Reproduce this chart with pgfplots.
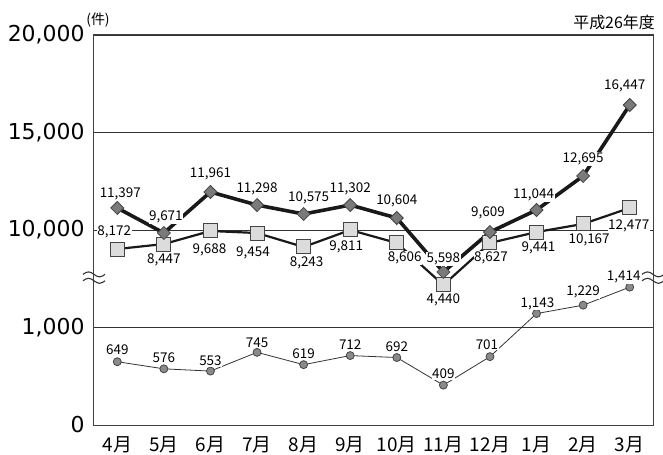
\documentclass[border=0pt]{standalone}
\usepackage{pgfplots}
\pgfplotsset{compat=1.18}
\usepackage{pgfplotstable}
\usepackage{fontspec}
\setmainfont{Noto Sans CJK JP}
\newfontfamily\dejavu{DejaVu Sans}

\definecolor{diafill}{HTML}{7A7A7A}
\definecolor{sqfill}{HTML}{DCDCDC}
\definecolor{cifill}{HTML}{8A8A8A}
\definecolor{edge}{HTML}{444444}

% diamonds: x, plotted position (broken scale), label, label offsets
\pgfplotstableread{
x y lab dx dy
0 2226 11,397 3 14
1 1969 9,671 2 16
2 2390 11,961 0 18
3 2256 11,298 0 16
4 2164 10,575 5 16
5 2256 11,302 0 16
6 2123 10,604 0 17
7 1569 5,598 0 13
8 1979 9,609 -2 19
9 2205 11,044 -3 15
10 2554 12,695 0 17
11 3282 16,447 -5 19
}\dia

\pgfplotstableread{
x y lab dx dy
0 1805 8,172 -3 17
1 1856 8,447 0 -16
2 1990 9,688 -1 -19
3 1969 9,454 -4 -20
4 1826 8,243 3 -16
5 2000 9,811 -4 -17
6 1867 8,606 8 -15
7 1436 4,440 0 -15
8 1867 8,627 1 -15
9 1979 9,441 2 -16
10 2062 10,167 6 -16
11 2226 12,477 -1 -18
}\sq

\pgfplotstableread{
x y lab dx dy
0 649 649 0 12
1 576 576 0 11
2 553 553 0 10
3 745 745 0 10
4 619 619 0 11
5 712 712 0 11
6 692 692 0 11
7 409 409 0 11
8 701 701 -3 12
9 1143 1,143 1 10
10 1229 1,229 0 13
11 1414 1,414 -6 10
}\ci

\begin{document}
\begin{tikzpicture}
\useasboundingbox (-94bp,-30bp) rectangle (569bp,425bp);
\begin{axis}[
  at={(0,0)}, anchor=south west,
  scale only axis, width=559bp, height=390bp,
  xmin=-0.5, xmax=11.5, ymin=0, ymax=4000,
  axis line style={line width=1bp, black!75},
  major tick length=0pt,
  xtick={0,...,11},
  xticklabels={4月,5月,6月,7月,8月,9月,10月,11月,12月,1月,2月,3月},
  xticklabel style={font=\fontsize{19}{19}\selectfont, yshift=-8bp},
  ytick={0,1000,2000,3000,4000},
  yticklabels={0,{1,000},{10,000},{15,000},{20,000}},
  yticklabel style={font=\dejavu\fontsize{22}{22}\selectfont, xshift=-6bp},
  ymajorgrids, grid style={line width=0.8bp, black!80},
  clip=false,
  lbl/.style={draw=none, mark=none, nodes near coords, point meta=explicit symbolic,
    visualization depends on={\thisrow{dx} \as \lblx},
    visualization depends on={\thisrow{dy} \as \lbly},
    every node near coord/.append style={font=\fontsize{13.5}{13.5}\selectfont, fill=white, inner sep=0.5bp, anchor=center, xshift=\lblx bp, yshift=\lbly bp}},
]
% circles
\addplot[line width=0.8bp, black!80, mark=*, mark size=4bp, mark options={fill=cifill, draw=edge, line width=0.8bp}] table[x=x, y=y] {\ci};
% squares
\addplot[line width=2.2bp, black!90, mark=square*, mark size=7bp, mark options={fill=sqfill, draw=edge, line width=1bp}] table[x=x, y=y] {\sq};
% diamonds
\addplot[line width=3.6bp, black!90, mark=square*, mark size=4.6bp, mark options={rotate=45, fill=diafill, draw=edge, line width=0.8bp}] table[x=x, y=y] {\dia};
% labels
\addplot[lbl] table[x=x, y=y, meta=lab] {\ci};
\addplot[lbl] table[x=x, y=y, meta=lab] {\sq};
\addplot[lbl] table[x=x, y=y, meta=lab] {\dia};
\path (axis cs:-0.5,1512) coordinate (bl);
\path (axis cs:11.5,1512) coordinate (br);
\path (axis cs:-0.5,4000) coordinate (tl);
\path (axis cs:11.5,4000) coordinate (tr);
\end{axis}
\foreach \c in {bl,br}{
  \foreach \o in {3.2,-3.2}{
    \draw[line width=1.1bp, black!80, shift={(\c)}, yshift=\o bp] (-11bp,0) sin (-5.5bp,2.5bp) cos (0,0) sin (5.5bp,-2.5bp) cos (11bp,0);
  }
}
\node[anchor=center, font=\fontsize{14}{14}\selectfont, inner sep=0] at ([xshift=4bp, yshift=15bp]tl) {(件)};
\node[anchor=east, font=\fontsize{16}{16}\selectfont, inner sep=0] at ([xshift=2bp, yshift=13bp]tr) {平成26年度};
\end{tikzpicture}
\end{document}
